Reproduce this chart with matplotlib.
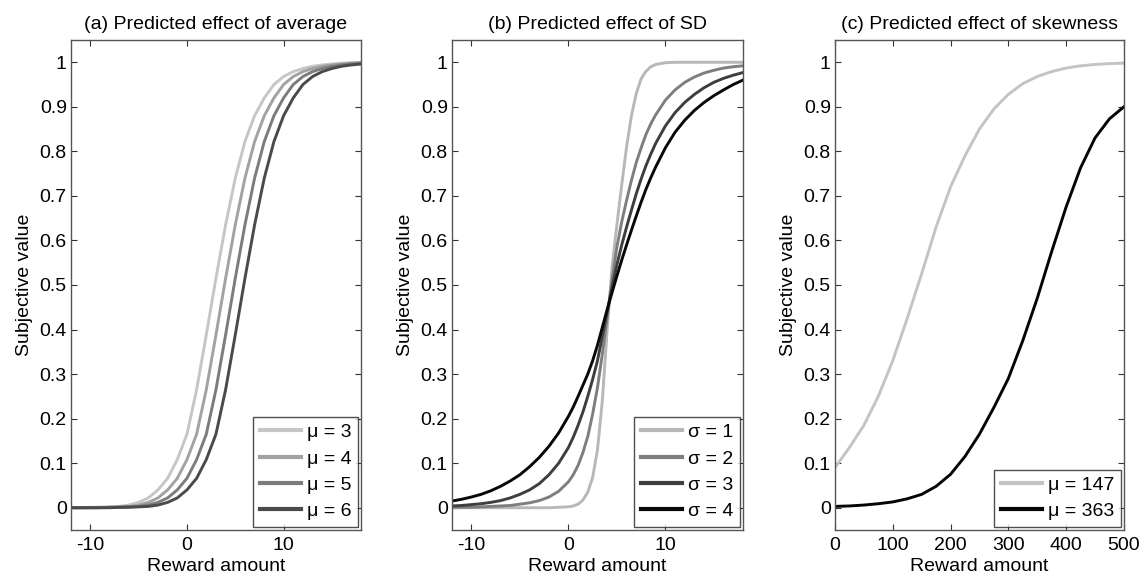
import matplotlib
matplotlib.use('Agg')
import matplotlib.pyplot as plt

plt.rcParams['font.family'] = ['Liberation Sans', 'DejaVu Sans']
plt.rcParams['axes.unicode_minus'] = False

# (a) effect of average -- values at integer reward amounts
x_a = list(range(-12, 19))
mu_labels = ['\u03bc = 3', '\u03bc = 4', '\u03bc = 5', '\u03bc = 6']
mu3 = [0.000, 0.000, 0.001, 0.001, 0.002, 0.003, 0.006, 0.012, 0.022, 0.040, 0.066,
       0.108, 0.165, 0.265, 0.388, 0.515, 0.635, 0.740, 0.822, 0.880, 0.920, 0.950,
       0.968, 0.979, 0.986, 0.991, 0.994, 0.996, 0.998, 0.999, 0.999]
mu4 = [0.000, 0.000, 0.000, 0.001, 0.001, 0.002, 0.003, 0.006, 0.012, 0.022, 0.040,
       0.066, 0.108, 0.165, 0.265, 0.388, 0.515, 0.635, 0.740, 0.822, 0.880, 0.920,
       0.950, 0.968, 0.979, 0.986, 0.991, 0.994, 0.996, 0.998, 0.999]
mu5 = [0.000, 0.000, 0.000, 0.000, 0.001, 0.001, 0.002, 0.003, 0.006, 0.012, 0.022,
       0.040, 0.066, 0.108, 0.165, 0.265, 0.388, 0.515, 0.635, 0.740, 0.822, 0.880,
       0.920, 0.950, 0.968, 0.979, 0.986, 0.991, 0.994, 0.996, 0.998]
mu6 = [0.000, 0.000, 0.000, 0.000, 0.000, 0.001, 0.001, 0.002, 0.003, 0.006, 0.012,
       0.022, 0.040, 0.066, 0.108, 0.165, 0.265, 0.388, 0.515, 0.635, 0.740, 0.822,
       0.880, 0.920, 0.950, 0.968, 0.979, 0.986, 0.991, 0.994, 0.996]

# (b) effect of SD
x_b = [-12, -11, -10, -9, -8, -7, -6, -5, -4, -3, -2, -1, 0,
       0.5, 1, 1.5, 2, 2.5, 3, 3.5, 4, 4.5, 5, 5.5, 6, 6.5, 7, 7.5, 8, 8.5, 9,
       10, 11, 12, 13, 14, 15, 16, 17, 18]
sd_labels = ['\u03c3 = 1', '\u03c3 = 2', '\u03c3 = 3', '\u03c3 = 4']
sd1 = [0, 0, 0, 0, 0, 0, 0, 0, 0, 0, 0, 0.001, 0.002,
       0.004, 0.008, 0.017, 0.035, 0.068, 0.13, 0.24, 0.40, 0.54, 0.635, 0.725, 0.81,
       0.88, 0.93, 0.963, 0.98, 0.99, 0.995,
       0.999, 1.0, 1.0, 1.0, 1.0, 1.0, 1.0, 1.0, 1.0]
sd2 = [0.001, 0.001, 0.001, 0.002, 0.003, 0.004, 0.005, 0.008, 0.011, 0.016, 0.024, 0.037, 0.058,
       0.074, 0.095, 0.124, 0.16, 0.21, 0.27, 0.345, 0.428, 0.51, 0.585, 0.642, 0.69,
       0.735, 0.775, 0.808, 0.838, 0.862, 0.882,
       0.915, 0.938, 0.955, 0.967, 0.976, 0.982, 0.987, 0.99, 0.992]
sd3 = [0.004, 0.005, 0.007, 0.009, 0.012, 0.016, 0.022, 0.03, 0.04, 0.054, 0.074, 0.1, 0.135,
       0.158, 0.185, 0.215, 0.25, 0.288, 0.33, 0.385, 0.44, 0.495, 0.545, 0.59, 0.63,
       0.668, 0.705, 0.738, 0.768, 0.794, 0.818,
       0.857, 0.887, 0.91, 0.928, 0.943, 0.955, 0.964, 0.971, 0.977]
sd4 = [0.015, 0.019, 0.024, 0.03, 0.038, 0.048, 0.06, 0.074, 0.092, 0.113, 0.138, 0.168, 0.205,
       0.226, 0.25, 0.275, 0.3, 0.33, 0.365, 0.405, 0.445, 0.483, 0.52, 0.556, 0.59,
       0.623, 0.655, 0.686, 0.715, 0.741, 0.765,
       0.808, 0.843, 0.87, 0.892, 0.91, 0.925, 0.938, 0.95, 0.96]

# (c) effect of skewness
x_c = list(range(0, 501, 25))
skew_labels = ['\u03bc = 147', '\u03bc = 363']
mu147 = [0.09, 0.135, 0.185, 0.25, 0.33, 0.425, 0.525, 0.63, 0.72, 0.79, 0.85,
         0.895, 0.928, 0.952, 0.968, 0.979, 0.987, 0.992, 0.995, 0.997, 0.998]
mu363 = [0.003, 0.004, 0.006, 0.009, 0.013, 0.02, 0.03, 0.048, 0.075, 0.115, 0.165,
         0.225, 0.29, 0.375, 0.47, 0.575, 0.675, 0.763, 0.83, 0.873, 0.9]

fig = plt.figure(figsize=(11.48, 5.83), dpi=100)
lefts = [0.0618, 0.3937, 0.7273]
widths = [0.2526, 0.2535, 0.2517]
axes = [fig.add_axes([l, 0.0909, w, 0.8405]) for l, w in zip(lefts, widths)]

panels = [
    (axes[0], '(a) Predicted effect of average', x_a, [mu3, mu4, mu5, mu6], mu_labels,
     ['#c6c6c6', '#a2a2a2', '#7c7c7c', '#4a4a4a'], (-12, 18), [-10, 0, 10]),
    (axes[1], '(b) Predicted effect of SD', x_b, [sd1, sd2, sd3, sd4], sd_labels,
     ['#b8b8b8', '#7e7e7e', '#3e3e3e', '#080808'], (-12, 18), [-10, 0, 10]),
    (axes[2], '(c) Predicted effect of skewness', x_c, [mu147, mu363], skew_labels,
     ['#c4c4c4', '#050505'], (0, 500), [0, 100, 200, 300, 400, 500]),
]

yt = [i / 10 for i in range(11)]
ytl = ['0'] + ['%.1f' % v for v in yt[1:-1]] + ['1']

for ax, title, xs, series, labels, colors, xlim, xticks in panels:
    for ys, lab, c in zip(series, labels, colors):
        ax.plot(xs, ys, color=c, lw=2.1, label=lab)
    ax.set_xlim(*xlim)
    ax.set_ylim(-0.05, 1.05)
    ax.set_xticks(xticks)
    ax.set_yticks(yt)
    ax.set_yticklabels(ytl)
    ax.tick_params(direction='in', top=True, right=True, length=4, width=0.8,
                   labelsize=14, pad=3, color='#333333')
    ax.tick_params(axis='x', pad=5)
    for s in ax.spines.values():
        s.set_color('#555555')
        s.set_linewidth(1.0)
    ax.set_title(title, fontsize=14, pad=8)
    ax.set_xlabel('Reward amount', fontsize=14, labelpad=3)
    ax.set_ylabel('Subjective value', fontsize=14, labelpad=5)
    leg = ax.legend(loc='lower right', fontsize=14, frameon=True, fancybox=False,
                    edgecolor='#222222', borderaxespad=0.15, handlelength=2.1,
                    handletextpad=0.3, labelspacing=0.45, borderpad=0.35)
    leg.get_frame().set_linewidth(1.0)
    for line in leg.get_lines():
        line.set_linewidth(3.0)

fig.savefig('out.png', dpi=100)
